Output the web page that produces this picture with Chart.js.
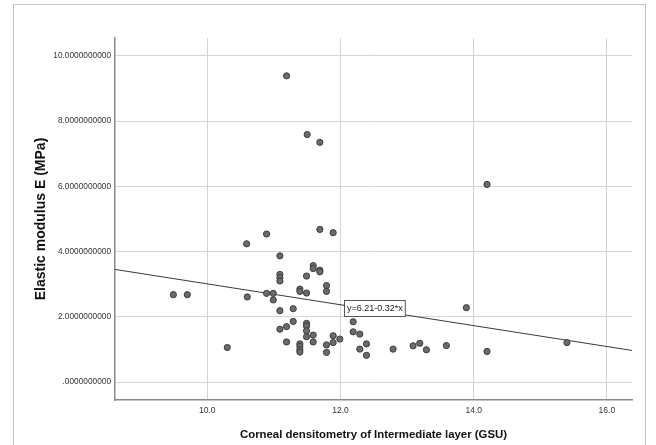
<!DOCTYPE html>
<html>
<head>
<meta charset="utf-8">
<script src="https://cdn.jsdelivr.net/npm/chart.js@4.4.1/dist/chart.umd.min.js"></script>
<style>
  html, body { margin: 0; padding: 0; background: #fff; }
  #chart { display: block; }
</style>
</head>
<body>
<canvas id="chart" width="656" height="445"></canvas>
<script>
// Corneal densitometry (GSU) for each eye
const densityValues = [
  9.49, 9.70, 10.30, 10.59, 10.60, 10.89, 10.89, 10.99, 10.99,
  11.09, 11.09, 11.09, 11.09, 11.09, 11.09,
  11.19, 11.19, 11.19, 11.29, 11.29,
  11.39, 11.39, 11.39, 11.39, 11.39, 11.39,
  11.49, 11.49, 11.49, 11.49, 11.49, 11.49, 11.50,
  11.59, 11.59, 11.59, 11.59,
  11.69, 11.69, 11.69, 11.69,
  11.79, 11.79, 11.79, 11.79,
  11.89, 11.89, 11.89, 11.99,
  12.19, 12.19, 12.29, 12.29, 12.39, 12.39,
  12.79, 13.09, 13.19, 13.29, 13.59, 13.89, 14.20, 14.20, 15.40,
];
// Elastic modulus E (MPa) for each eye
const modulusValues = [
  2.68, 2.68, 1.06, 4.24, 2.61, 4.54, 2.72, 2.72, 2.52,
  3.87, 3.30, 3.20, 3.10, 2.19, 1.62,
  9.39, 1.70, 1.23, 2.25, 1.86,
  2.85, 2.78, 1.17, 1.09, 0.99, 0.92,
  3.25, 2.73, 1.80, 1.72, 1.57, 1.39, 7.59,
  3.57, 3.48, 1.44, 1.23,
  7.35, 4.68, 3.43, 3.38,
  2.96, 2.78, 1.14, 0.91,
  4.58, 1.42, 1.21, 1.32,
  1.85, 1.54, 1.47, 1.01, 1.17, 0.82,
  1.01, 1.11, 1.19, 0.99, 1.12, 2.28, 6.06, 0.94, 1.21,
];

// Fit line y = a + b*x
const fitIntercept = 6.21;
const fitSlope = -0.32;
const fitLabel = "y=6.21-0.32*x";
const fitLabelAt = 12.05;

const xTicks = [10, 12, 14, 16];
const xTickLabels = ["10.0", "12.0", "14.0", "16.0"];
const yTicks = [0, 2, 4, 6, 8, 10];
const yTickLabels = [
  ".0000000000",
  "2.0000000000",
  "4.0000000000",
  "6.0000000000",
  "8.0000000000",
  "10.0000000000",
];

const xMin = 8.614;
const xMax = 16.377;
const yMin = -0.55;
const yMax = 10.55;

const FONT = "Arial, 'Liberation Sans', sans-serif";

document.addEventListener("DOMContentLoaded", function () {
  initializeChart();
});

let chart;

function fitY(x) {
  return fitIntercept + fitSlope * x;
}

// white page with the light outer frame
const framePlugin = {
  id: "frame",
  beforeDraw(c) {
    const ctx = c.ctx;
    ctx.save();
    ctx.fillStyle = "#ffffff";
    ctx.fillRect(0, 0, c.width, c.height);
    ctx.strokeStyle = "#c4c4c4";
    ctx.lineWidth = 1;
    ctx.strokeRect(13.5, 4.5, 632, 460);
    ctx.restore();
  },
};

// boxed equation label on the fit line
const fitLabelPlugin = {
  id: "fitLabel",
  afterDatasetsDraw(c) {
    const ctx = c.ctx;
    const x = c.scales.x.getPixelForValue(fitLabelAt);
    const y = c.scales.y.getPixelForValue(fitY(fitLabelAt));
    ctx.save();
    ctx.font = "9px " + FONT;
    const w = ctx.measureText(fitLabel).width + 5;
    const h = 16;
    const left = Math.round(x) + 0.5;
    const top = Math.round(y) - 4.5;
    ctx.fillStyle = "#ffffff";
    ctx.fillRect(left, top, w, h);
    ctx.strokeStyle = "#555555";
    ctx.lineWidth = 1;
    ctx.strokeRect(left, top, w, h);
    ctx.fillStyle = "#222222";
    ctx.textBaseline = "middle";
    ctx.fillText(fitLabel, left + 2.5, top + h / 2 + 0.5);
    ctx.restore();
  },
};

function initializeChart() {
  const ctx = document.getElementById("chart").getContext("2d");
  const points = densityValues.map((x, i) => ({ x: x, y: modulusValues[i] }));
  const fitLine = [
    { x: xMin, y: fitY(xMin) },
    { x: xMax, y: fitY(xMax) },
  ];

  chart = new Chart(ctx, {
    type: "scatter",
    data: {
      datasets: [
        {
          label: "Fit",
          type: "line",
          data: fitLine,
          borderColor: "#3a3a3a",
          borderWidth: 1,
          pointRadius: 0,
          fill: false,
          order: 2,
        },
        {
          label: "E",
          data: points,
          backgroundColor: "#6b6b6b",
          borderColor: "#3c3c3c",
          borderWidth: 1,
          pointRadius: 3.1,
          order: 1,
        },
      ],
    },
    options: {
      responsive: false,
      animation: false,
      events: [],
      layout: {
        padding: { left: 0, top: 38, right: 24, bottom: 0 },
      },
      plugins: {
        legend: { display: false },
        tooltip: { enabled: false },
      },
      scales: {
        x: {
          type: "linear",
          min: xMin,
          max: xMax,
          afterBuildTicks: (scale) => {
            scale.ticks = xTicks.map((v) => ({ value: v }));
          },
          afterFit: (scale) => {
            scale.height = 45;
          },
          grid: {
            color: "#d4d4d4",
            lineWidth: 1,
            drawTicks: false,
          },
          border: { color: "#8a8a8a", width: 1.5 },
          ticks: {
            padding: 6,
            color: "#333333",
            font: { size: 8.5, family: FONT },
            callback: (v) => xTickLabels[xTicks.indexOf(v)],
          },
          title: {
            display: true,
            text: "Corneal densitometry of Intermediate layer (GSU)",
            color: "#111111",
            font: { size: 11.4, weight: "bold", family: FONT },
            padding: { top: 0, bottom: 3 },
          },
        },
        y: {
          type: "linear",
          min: yMin,
          max: yMax,
          afterBuildTicks: (scale) => {
            scale.ticks = yTicks.map((v) => ({ value: v }));
          },
          afterFit: (scale) => {
            scale.width = 115;
          },
          grid: {
            color: "#d4d4d4",
            lineWidth: 1,
            drawTicks: false,
          },
          border: { color: "#8a8a8a", width: 1.5 },
          ticks: {
            padding: 4,
            color: "#333333",
            font: { size: 8.3, family: FONT },
            callback: (v) => yTickLabels[yTicks.indexOf(v)],
          },
          title: {
            display: true,
            text: "Elastic modulus E (MPa)",
            color: "#111111",
            font: { size: 14, weight: "bold", family: FONT },
            padding: { top: 33, bottom: 0 },
          },
        },
      },
    },
    plugins: [framePlugin, fitLabelPlugin],
  });
}
</script>
</body>
</html>
